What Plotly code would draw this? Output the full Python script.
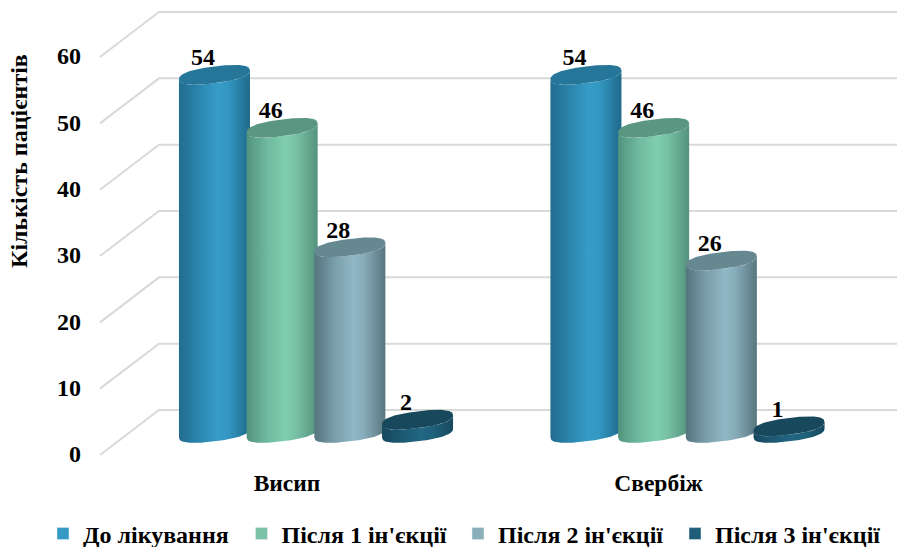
import numpy as np
import plotly.graph_objects as go

# Chart data
categories = ["Висип", "Свербіж"]
series_names = ["До лікування", "Після 1 ін'єкції", "Після 2 ін'єкції", "Після 3 ін'єкції"]
rash_counts = [54, 46, 28, 2]
itch_counts = [54, 46, 26, 1]
y_ticks = [0, 10, 20, 30, 40, 50, 60]

# Figure frame, in pixels
WIDTH, HEIGHT = 897, 547
PLOT_LEFT, PLOT_BOTTOM = 90, 462
PX_PER_UNIT = 6.633      # vertical pixels per patient
PX_PER_GROUP = 371.5     # horizontal pixels between the two groups
GROUP_ZERO_PX = 316      # pixel position of the first group's centre
AXIS_ZERO_PX = 455       # pixel position of the value 0 on the front edge


def ux(px):
    return px / PX_PER_GROUP


def uy(px):
    return px / PX_PER_UNIT


x_min = ux(PLOT_LEFT - GROUP_ZERO_PX)
x_max = ux(WIDTH - GROUP_ZERO_PX)
y_min = uy(AXIS_ZERO_PX - PLOT_BOTTOM)
y_max = uy(AXIS_ZERO_PX)

# Depth of the box floor: walls sit behind the value axis, cylinders half-way
WALL_RISE = uy(45)
CYL_RISE = uy(22)
series_step = ux(67.7)
half_width = ux(35.5)
ell_b = uy(8.4)
ell_tilt = uy(4.4)
ROUNDNESS = 0.82         # below 1 the cap outline swells towards a rounded box

# Shaded colours: side gradient stops and flat top cap for every series
side_stops = [
    ["rgb(33,108,142)", "rgb(44,135,175)", "rgb(54,157,200)", "rgb(50,150,192)", "rgb(30,105,138)"],
    ["rgb(82,148,125)", "rgb(112,186,160)", "rgb(128,205,176)", "rgb(118,192,165)", "rgb(84,146,124)"],
    ["rgb(84,116,126)", "rgb(124,160,173)", "rgb(144,183,197)", "rgb(134,172,185)", "rgb(88,118,127)"],
    ["rgb(22,72,94)", "rgb(29,90,116)", "rgb(34,102,130)", "rgb(32,98,124)", "rgb(22,72,94)"],
]
cap_colors = ["rgb(37,118,152)", "rgb(90,150,130)", "rgb(102,136,144)", "rgb(24,72,92)"]
legend_colors = ["rgb(52,153,197)", "rgb(122,195,168)", "rgb(138,175,187)", "rgb(31,94,120)"]
stop_positions = [0.0, 0.3, 0.55, 0.7, 1.0]

label_shift_x = ux(-11.5)
label_shift_y = uy(15.5)


def cap_outline(theta):
    """Offsets from a cap centre along its tilted, slightly squared outline."""
    c = np.cos(theta)
    s = np.sin(theta)
    cu = np.sign(c) * np.abs(c) ** ROUNDNESS
    su = np.sign(s) * np.abs(s) ** ROUNDNESS
    return half_width * cu, ell_tilt * cu + ell_b * su


fig = go.Figure()

# Back wall and side wall gridlines
for tick in y_ticks:
    fig.add_trace(go.Scatter(
        x=[ux(100 - GROUP_ZERO_PX), ux(159 - GROUP_ZERO_PX), x_max],
        y=[tick, tick + WALL_RISE, tick + WALL_RISE],
        mode="lines", line=dict(color="#D9D9D9", width=2),
        showlegend=False, hoverinfo="skip",
    ))

# Cylinders, drawn from left to right so each one overlaps its left neighbour
theta_front = np.linspace(np.pi, 2 * np.pi, 80)
theta_full = np.linspace(0, 2 * np.pi, 160)
all_counts = [rash_counts, itch_counts]
for g, counts in enumerate(all_counts):
    for s, value in enumerate(counts):
        cx = g + (s - 1.5) * series_step
        base = CYL_RISE
        top = value + CYL_RISE
        dx, dy = cap_outline(theta_front)
        body_x = np.concatenate([cx + dx, cx + dx[::-1]])
        body_y = np.concatenate([base + dy, top + dy[::-1]])
        colorscale = [[p, c] for p, c in zip(stop_positions, side_stops[s])]
        fig.add_trace(go.Scatter(
            x=body_x, y=body_y, mode="lines", line=dict(width=0),
            fill="toself",
            fillgradient=dict(type="horizontal", colorscale=colorscale),
            showlegend=False, hoverinfo="skip",
        ))
        dx, dy = cap_outline(theta_full)
        fig.add_trace(go.Scatter(
            x=cx + dx, y=top + dy,
            mode="lines", line=dict(width=0), fill="toself",
            fillcolor=cap_colors[s], showlegend=False, hoverinfo="skip",
        ))

# Value labels above the cylinders
for g, counts in enumerate(all_counts):
    fig.add_trace(go.Scatter(
        x=[g + (s - 1.5) * series_step + label_shift_x for s in range(4)],
        y=[v + CYL_RISE + label_shift_y for v in counts],
        text=[str(v) for v in counts],
        mode="text", textposition="middle center", cliponaxis=False,
        textfont=dict(family="Liberation Serif", size=24, color="black", weight="bold"),
        showlegend=False, hoverinfo="skip",
    ))

# Legend entries
legend_widths = [153.5, 171.5, 172, 170]
for name, color, w in zip(series_names, legend_colors, legend_widths):
    fig.add_trace(go.Bar(x=[None], y=[None], name=name, marker_color=color, legendwidth=w))

fig.update_layout(
    width=WIDTH, height=HEIGHT,
    margin=dict(l=PLOT_LEFT, r=0, t=0, b=HEIGHT - PLOT_BOTTOM, autoexpand=False),
    paper_bgcolor="white", plot_bgcolor="white",
    font=dict(family="Liberation Serif", size=24, color="black", weight="bold"),
    xaxis=dict(
        range=[x_min, x_max], tickmode="array",
        tickvals=[ux(287 - GROUP_ZERO_PX), ux(658.5 - GROUP_ZERO_PX)], ticktext=categories,
        showgrid=False, zeroline=False, showline=False, ticks="",
        ticklabelstandoff=4,
        tickfont=dict(family="Liberation Serif", size=23.5, color="black", weight="bold"),
    ),
    yaxis=dict(
        range=[y_min, y_max], tickmode="array", tickvals=y_ticks,
        showgrid=False, zeroline=False, showline=False, ticks="",
        ticklabelstandoff=8, ticklabelshift=-1,
        tickfont=dict(family="Liberation Serif", size=24, color="black", weight="bold"),
    ),
    legend=dict(
        orientation="h", x=(43 - PLOT_LEFT) / (WIDTH - PLOT_LEFT),
        xanchor="left", yanchor="middle", y=(PLOT_BOTTOM - 534) / PLOT_BOTTOM,
        font=dict(family="Liberation Serif", size=24, color="black", weight="bold"),
        bgcolor="rgba(0,0,0,0)",
    ),
    annotations=[dict(
        text="Кількість пацієнтів", xref="paper", yref="paper",
        x=(19 - PLOT_LEFT) / (WIDTH - PLOT_LEFT), y=(PLOT_BOTTOM - 161) / PLOT_BOTTOM,
        xanchor="center", yanchor="middle",
        textangle=-90, showarrow=False,
        font=dict(family="Liberation Serif", size=24, color="black", weight="bold"),
    )],
)

fig.write_html("out.html")
